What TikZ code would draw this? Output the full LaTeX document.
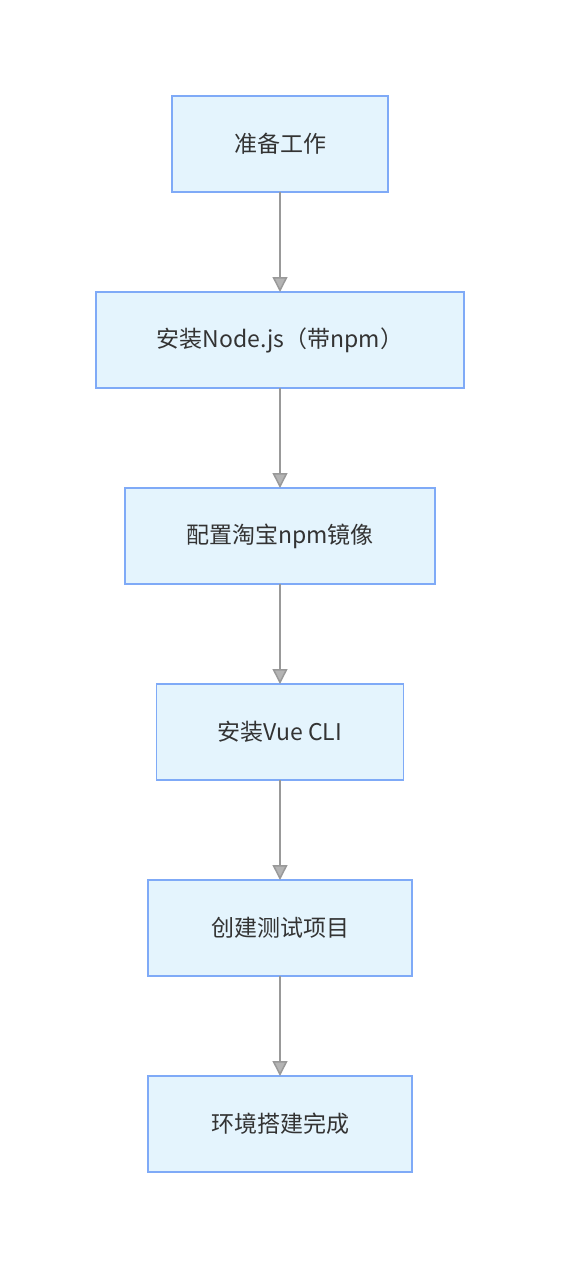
\documentclass[tikz,border=0pt]{standalone}
\usepackage{fontspec}
\setmainfont{Noto Sans CJK SC}
\usetikzlibrary{positioning,arrows.meta}
\definecolor{boxfill}{HTML}{E4F4FD}
\definecolor{boxline}{HTML}{7FAAF7}
\definecolor{arrowgray}{HTML}{999999}
\definecolor{textgray}{HTML}{333333}
\tikzset{stepbox/.style={draw=boxline, fill=boxfill, rectangle, line width=1.5pt, minimum height=96pt, inner sep=0pt, outer sep=0pt, text=textgray, font=\fontsize{23}{27}\selectfont}}
\tikzset{line/.style={draw=arrowgray, line width=1.5pt, -{Triangle[length=15pt,width=15pt,fill=arrowgray!85!black!60]}}}

\begin{document}
\begin{tikzpicture}[x=1pt, y=-1pt, node distance=100pt]
		\useasboundingbox (0,0) rectangle (560,1268);
		\node [stepbox, minimum width=216pt] (prep) at (280,144) {准备工作};
		\node [stepbox, minimum width=368pt, below=of prep] (node) {安装Node.js（带npm）};
		\node [stepbox, minimum width=310pt, below=of node] (mirror) {配置淘宝npm镜像};
		\node [stepbox, minimum width=247pt, below=of mirror] (vuecli) {安装Vue CLI};
		\node [stepbox, minimum width=264pt, below=of vuecli] (test) {创建测试项目};
		\node [stepbox, minimum width=264pt, below=of test] (done) {环境搭建完成};
		
		\path [line] (prep) -- (node);
		\path [line] (node) -- (mirror);
		\path [line] (mirror) -- (vuecli);
		\path [line] (vuecli) -- (test);
		\path [line] (test) -- (done);
		
\end{tikzpicture}
\end{document}
